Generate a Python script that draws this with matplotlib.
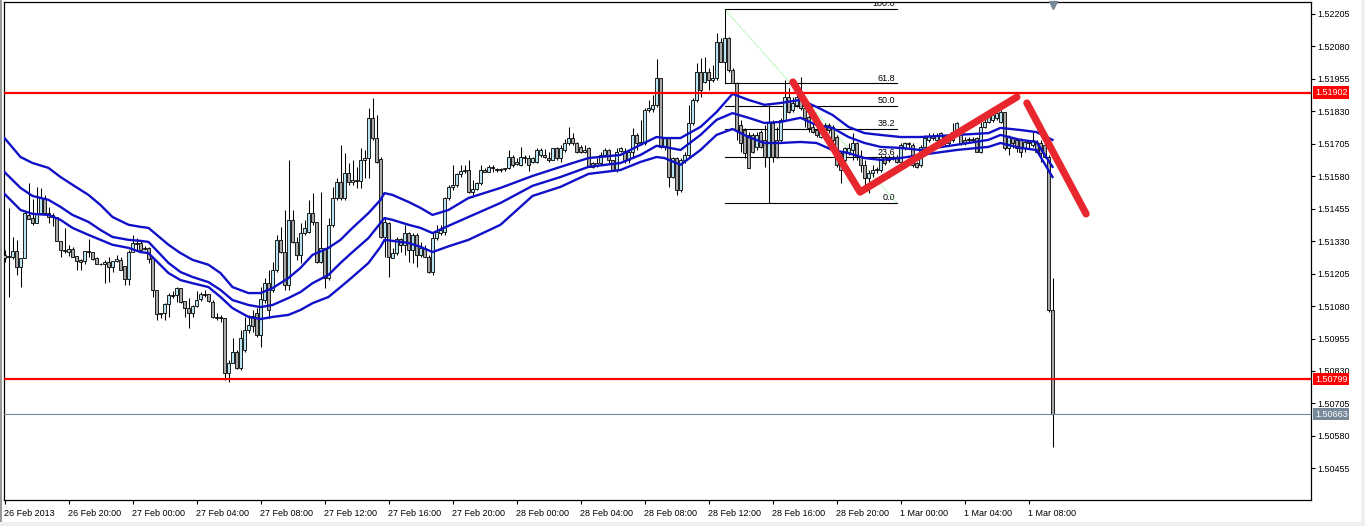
import matplotlib
matplotlib.use('Agg')
import matplotlib.pyplot as plt
import matplotlib.transforms as mtransforms
from matplotlib.patches import Rectangle
import numpy as np

plt.rcParams['font.family'] = ['Liberation Sans', 'DejaVu Sans']

# M15 bars, 26 Feb 16:00 -> 1 Mar 09:30
opens = [
    1.51277, 1.51273, 1.51269, 1.51292, 1.51231, 1.51265, 1.51431, 1.51419, 1.51400, 1.51438,
    1.51496, 1.51438, 1.51423, 1.51423, 1.51331, 1.51296, 1.51288, 1.51300, 1.51273, 1.51258,
    1.51254, 1.51292, 1.51288, 1.51265, 1.51243, 1.51243, 1.51250, 1.51231, 1.51254, 1.51258,
    1.51235, 1.51184, 1.51288, 1.51323, 1.51323, 1.51300, 1.51304, 1.51265, 1.51142, 1.51050,
    1.51053, 1.51088, 1.51123, 1.51123, 1.51149, 1.51099, 1.51072, 1.51053, 1.51080, 1.51107,
    1.51127, 1.51127, 1.51095, 1.51038, 1.51038, 1.51034, 1.50822, 1.50860, 1.50903, 1.50841,
    1.50911, 1.50988, 1.51042, 1.51053, 1.50969, 1.51103, 1.51168, 1.51142, 1.51219, 1.51335,
    1.51288, 1.51161, 1.51412, 1.51327, 1.51277, 1.51361, 1.51365, 1.51438, 1.51404, 1.51250,
    1.51304, 1.51188, 1.51393, 1.51496, 1.51558, 1.51496, 1.51592, 1.51558, 1.51566, 1.51562,
    1.51643, 1.51650, 1.51804, 1.51727, 1.51646, 1.51346, 1.51400, 1.51265, 1.51284, 1.51338,
    1.51316, 1.51361, 1.51296, 1.51354, 1.51277, 1.51304, 1.51269, 1.51211, 1.51342, 1.51361,
    1.51365, 1.51496, 1.51539, 1.51547, 1.51589, 1.51600, 1.51604, 1.51519, 1.51531, 1.51554,
    1.51604, 1.51596, 1.51616, 1.51608, 1.51604, 1.51608, 1.51612, 1.51654, 1.51628, 1.51624,
    1.51654, 1.51650, 1.51635, 1.51635, 1.51662, 1.51662, 1.51650, 1.51643, 1.51689, 1.51650,
    1.51681, 1.51708, 1.51727, 1.51708, 1.51693, 1.51673, 1.51689, 1.51631, 1.51624, 1.51631,
    1.51662, 1.51681, 1.51643, 1.51604, 1.51677, 1.51677, 1.51643, 1.51673, 1.51739, 1.51708,
    1.51708, 1.51835, 1.51839, 1.51855, 1.51958, 1.51693, 1.51727, 1.51577, 1.51650, 1.51527,
    1.51643, 1.51662, 1.51785, 1.51874, 1.51981, 1.51943, 1.51981, 1.51951, 1.51958, 1.52097,
    1.52020, 1.52113, 1.51989, 1.51939, 1.51777, 1.51758, 1.51739, 1.51739, 1.51693, 1.51750,
    1.51720, 1.51654, 1.51785, 1.51720, 1.51720, 1.51797, 1.51885, 1.51835, 1.51855, 1.51885,
    1.51843, 1.51808, 1.51770, 1.51758, 1.51731, 1.51750, 1.51777, 1.51770, 1.51731, 1.51669,
    1.51643, 1.51669, 1.51681, 1.51708, 1.51654, 1.51624, 1.51573, 1.51592, 1.51604, 1.51604,
    1.51654, 1.51643, 1.51654, 1.51654, 1.51635, 1.51689, 1.51708, 1.51701, 1.51631, 1.51624,
    1.51693, 1.51720, 1.51735, 1.51720, 1.51720, 1.51735, 1.51720, 1.51720, 1.51750, 1.51750,
    1.51720, 1.51724, 1.51720, 1.51727, 1.51673, 1.51770, 1.51789, 1.51797, 1.51805, 1.51789,
    1.51827, 1.51689, 1.51727, 1.51720, 1.51720, 1.51689, 1.51712, 1.51701, 1.51712, 1.51708,
    1.51701, 1.51654, 1.51065]

highs = [
    1.51296, 1.51458, 1.51346, 1.51335, 1.51265, 1.51438, 1.51554, 1.51492, 1.51539, 1.51535,
    1.51508, 1.51462, 1.51438, 1.51423, 1.51331, 1.51381, 1.51316, 1.51308, 1.51273, 1.51261,
    1.51292, 1.51338, 1.51288, 1.51269, 1.51246, 1.51258, 1.51269, 1.51254, 1.51277, 1.51269,
    1.51235, 1.51296, 1.51354, 1.51342, 1.51335, 1.51312, 1.51308, 1.51265, 1.51142, 1.51053,
    1.51091, 1.51130, 1.51138, 1.51153, 1.51149, 1.51099, 1.51111, 1.51084, 1.51138, 1.51134,
    1.51142, 1.51127, 1.51103, 1.51053, 1.51046, 1.51034, 1.50872, 1.50957, 1.50911, 1.50988,
    1.51038, 1.51046, 1.51065, 1.51072, 1.51153, 1.51188, 1.51219, 1.51250, 1.51354, 1.51385,
    1.51450, 1.51643, 1.51450, 1.51346, 1.51400, 1.51412, 1.51489, 1.51515, 1.51404, 1.51519,
    1.51304, 1.51419, 1.51539, 1.51573, 1.51701, 1.51669, 1.51631, 1.51643, 1.51616, 1.51689,
    1.51681, 1.51843, 1.51881, 1.51816, 1.51654, 1.51423, 1.51404, 1.51304, 1.51346, 1.51342,
    1.51393, 1.51365, 1.51361, 1.51361, 1.51327, 1.51316, 1.51277, 1.51365, 1.51393, 1.51393,
    1.51500, 1.51547, 1.51624, 1.51592, 1.51624, 1.51624, 1.51643, 1.51566, 1.51558, 1.51624,
    1.51612, 1.51624, 1.51624, 1.51612, 1.51612, 1.51612, 1.51681, 1.51662, 1.51650, 1.51693,
    1.51662, 1.51662, 1.51654, 1.51689, 1.51689, 1.51685, 1.51673, 1.51689, 1.51693, 1.51701,
    1.51724, 1.51770, 1.51746, 1.51712, 1.51701, 1.51701, 1.51693, 1.51635, 1.51650, 1.51673,
    1.51689, 1.51685, 1.51643, 1.51689, 1.51693, 1.51689, 1.51681, 1.51766, 1.51746, 1.51797,
    1.51843, 1.51874, 1.51893, 1.52032, 1.51958, 1.51731, 1.51731, 1.51654, 1.51654, 1.51650,
    1.51673, 1.51855, 1.51881, 1.52016, 1.52035, 1.52039, 1.51997, 1.52009, 1.52131, 1.52113,
    1.52224, 1.52116, 1.51997, 1.51943, 1.51797, 1.51766, 1.51750, 1.51746, 1.51750, 1.51758,
    1.51777, 1.51862, 1.51797, 1.51770, 1.51805, 1.51951, 1.51920, 1.51885, 1.51924, 1.51962,
    1.51847, 1.51816, 1.51785, 1.51766, 1.51770, 1.51785, 1.51785, 1.51777, 1.51739, 1.51673,
    1.51693, 1.51708, 1.51746, 1.51712, 1.51681, 1.51643, 1.51604, 1.51624, 1.51616, 1.51662,
    1.51662, 1.51662, 1.51662, 1.51662, 1.51708, 1.51712, 1.51712, 1.51708, 1.51635, 1.51701,
    1.51739, 1.51746, 1.51746, 1.51746, 1.51750, 1.51739, 1.51731, 1.51785, 1.51789, 1.51758,
    1.51731, 1.51731, 1.51731, 1.51731, 1.51789, 1.51805, 1.51816, 1.51823, 1.51827, 1.51835,
    1.51827, 1.51739, 1.51731, 1.51727, 1.51727, 1.51720, 1.51720, 1.51750, 1.51720, 1.51720,
    1.51708, 1.51662, 1.51188]

lows = [
    1.51250, 1.51115, 1.51261, 1.51200, 1.51153, 1.51265, 1.51415, 1.51393, 1.51400, 1.51438,
    1.51438, 1.51400, 1.51389, 1.51331, 1.51269, 1.51284, 1.51273, 1.51269, 1.51219, 1.51219,
    1.51243, 1.51269, 1.51258, 1.51243, 1.51239, 1.51168, 1.51172, 1.51211, 1.51250, 1.51219,
    1.51161, 1.51161, 1.51288, 1.51296, 1.51288, 1.51296, 1.51246, 1.51115, 1.51026, 1.51034,
    1.51026, 1.51038, 1.51111, 1.51095, 1.51091, 1.51038, 1.50995, 1.51038, 1.51076, 1.51099,
    1.51115, 1.51095, 1.51034, 1.51026, 1.51018, 1.50795, 1.50787, 1.50860, 1.50837, 1.50834,
    1.50903, 1.50976, 1.50980, 1.50961, 1.50922, 1.51091, 1.51034, 1.51134, 1.51211, 1.51284,
    1.51142, 1.51142, 1.51323, 1.51258, 1.51246, 1.51354, 1.51361, 1.51393, 1.51246, 1.51246,
    1.51149, 1.51180, 1.51385, 1.51489, 1.51489, 1.51489, 1.51547, 1.51547, 1.51535, 1.51535,
    1.51573, 1.51573, 1.51720, 1.51631, 1.51342, 1.51269, 1.51192, 1.51265, 1.51277, 1.51288,
    1.51277, 1.51250, 1.51246, 1.51231, 1.51269, 1.51269, 1.51207, 1.51200, 1.51335, 1.51354,
    1.51354, 1.51489, 1.51527, 1.51539, 1.51577, 1.51592, 1.51515, 1.51508, 1.51527, 1.51547,
    1.51596, 1.51596, 1.51596, 1.51596, 1.51596, 1.51600, 1.51608, 1.51616, 1.51624, 1.51620,
    1.51631, 1.51600, 1.51631, 1.51631, 1.51654, 1.51650, 1.51635, 1.51643, 1.51643, 1.51635,
    1.51673, 1.51701, 1.51701, 1.51669, 1.51669, 1.51669, 1.51616, 1.51612, 1.51616, 1.51624,
    1.51654, 1.51631, 1.51604, 1.51596, 1.51673, 1.51631, 1.51631, 1.51654, 1.51681, 1.51701,
    1.51701, 1.51827, 1.51827, 1.51847, 1.51689, 1.51681, 1.51539, 1.51573, 1.51508, 1.51519,
    1.51631, 1.51654, 1.51777, 1.51866, 1.51885, 1.51939, 1.51912, 1.51943, 1.51951, 1.52020,
    1.51939, 1.51981, 1.51939, 1.51720, 1.51673, 1.51650, 1.51612, 1.51669, 1.51681, 1.51689,
    1.51616, 1.51477, 1.51635, 1.51650, 1.51712, 1.51797, 1.51823, 1.51827, 1.51847, 1.51835,
    1.51770, 1.51750, 1.51746, 1.51731, 1.51727, 1.51746, 1.51746, 1.51712, 1.51616, 1.51554,
    1.51624, 1.51662, 1.51643, 1.51643, 1.51596, 1.51547, 1.51515, 1.51577, 1.51592, 1.51596,
    1.51624, 1.51635, 1.51643, 1.51631, 1.51631, 1.51681, 1.51689, 1.51616, 1.51612, 1.51616,
    1.51689, 1.51712, 1.51720, 1.51712, 1.51708, 1.51701, 1.51701, 1.51712, 1.51746, 1.51701,
    1.51701, 1.51712, 1.51712, 1.51673, 1.51669, 1.51766, 1.51785, 1.51789, 1.51797, 1.51785,
    1.51681, 1.51662, 1.51689, 1.51673, 1.51654, 1.51673, 1.51689, 1.51693, 1.51669, 1.51635,
    1.51650, 1.51057, 1.50537]

closes = [
    1.51265, 1.51269, 1.51292, 1.51231, 1.51265, 1.51438, 1.51415, 1.51400, 1.51438, 1.51496,
    1.51438, 1.51423, 1.51431, 1.51331, 1.51296, 1.51292, 1.51300, 1.51269, 1.51254, 1.51250,
    1.51292, 1.51288, 1.51261, 1.51243, 1.51243, 1.51250, 1.51231, 1.51254, 1.51261, 1.51219,
    1.51184, 1.51288, 1.51323, 1.51320, 1.51296, 1.51304, 1.51261, 1.51142, 1.51050, 1.51053,
    1.51088, 1.51123, 1.51119, 1.51149, 1.51095, 1.51072, 1.51053, 1.51080, 1.51103, 1.51127,
    1.51123, 1.51099, 1.51038, 1.51034, 1.51034, 1.50822, 1.50860, 1.50903, 1.50841, 1.50957,
    1.50988, 1.51007, 1.51003, 1.50969, 1.51107, 1.51168, 1.51065, 1.51219, 1.51335, 1.51288,
    1.51161, 1.51412, 1.51327, 1.51277, 1.51361, 1.51381, 1.51438, 1.51404, 1.51250, 1.51304,
    1.51188, 1.51393, 1.51496, 1.51558, 1.51496, 1.51592, 1.51558, 1.51566, 1.51562, 1.51643,
    1.51650, 1.51804, 1.51727, 1.51635, 1.51346, 1.51404, 1.51269, 1.51284, 1.51338, 1.51316,
    1.51361, 1.51296, 1.51354, 1.51277, 1.51304, 1.51269, 1.51211, 1.51342, 1.51365, 1.51373,
    1.51496, 1.51539, 1.51547, 1.51589, 1.51600, 1.51604, 1.51519, 1.51531, 1.51554, 1.51604,
    1.51596, 1.51616, 1.51612, 1.51604, 1.51608, 1.51612, 1.51654, 1.51624, 1.51635, 1.51654,
    1.51650, 1.51624, 1.51650, 1.51681, 1.51681, 1.51654, 1.51643, 1.51689, 1.51650, 1.51689,
    1.51708, 1.51727, 1.51708, 1.51673, 1.51673, 1.51681, 1.51616, 1.51616, 1.51631, 1.51662,
    1.51681, 1.51643, 1.51604, 1.51673, 1.51689, 1.51643, 1.51673, 1.51739, 1.51708, 1.51712,
    1.51835, 1.51843, 1.51855, 1.51958, 1.51693, 1.51727, 1.51577, 1.51650, 1.51527, 1.51643,
    1.51662, 1.51785, 1.51874, 1.51981, 1.51912, 1.51981, 1.51951, 1.51958, 1.52097, 1.52020,
    1.52113, 1.51989, 1.51939, 1.51758, 1.51708, 1.51669, 1.51612, 1.51673, 1.51739, 1.51693,
    1.51654, 1.51789, 1.51654, 1.51654, 1.51797, 1.51885, 1.51827, 1.51862, 1.51885, 1.51843,
    1.51805, 1.51766, 1.51750, 1.51739, 1.51758, 1.51777, 1.51758, 1.51720, 1.51624, 1.51604,
    1.51689, 1.51689, 1.51708, 1.51654, 1.51624, 1.51573, 1.51592, 1.51604, 1.51608, 1.51654,
    1.51631, 1.51654, 1.51650, 1.51635, 1.51701, 1.51708, 1.51704, 1.51624, 1.51616, 1.51693,
    1.51727, 1.51735, 1.51727, 1.51739, 1.51746, 1.51708, 1.51708, 1.51750, 1.51785, 1.51708,
    1.51708, 1.51720, 1.51724, 1.51673, 1.51770, 1.51789, 1.51808, 1.51816, 1.51823, 1.51827,
    1.51689, 1.51731, 1.51708, 1.51689, 1.51673, 1.51712, 1.51708, 1.51720, 1.51673, 1.51669,
    1.51654, 1.51065, 1.50663]

# three moving-average channel lines, sampled at bar indexes
ma_bar = [0, 4, 7, 11, 14, 17, 21, 24, 27, 31, 34, 36, 41, 44, 47, 51, 54, 57, 61, 64,
          67, 71, 74, 77, 81, 84, 87, 91, 94, 95, 97, 101, 104, 107, 111, 116, 124, 132, 139, 146,
          154, 159, 163, 165, 169, 174, 178, 182, 186, 190, 194, 199, 203, 207, 211, 215, 219, 224, 229, 238,
          246, 249, 254, 258, 262]
ma_upper = [1.51727, 1.51654, 1.51631, 1.51612, 1.51577, 1.51547, 1.51508, 1.51469, 1.51423, 1.51393,
            1.51385, 1.51381, 1.51316, 1.51284, 1.51258, 1.51239, 1.51207, 1.51153, 1.51130, 1.51130,
            1.51149, 1.51188, 1.51227, 1.51277, 1.51304, 1.51335, 1.51381, 1.51438, 1.51489, 1.51515,
            1.51508, 1.51481, 1.51458, 1.51431, 1.51450, 1.51496, 1.51535, 1.51581, 1.51616, 1.51650,
            1.51662, 1.51701, 1.51731, 1.51727, 1.51727, 1.51770, 1.51827, 1.51897, 1.51874, 1.51855,
            1.51862, 1.51874, 1.51847, 1.51816, 1.51770, 1.51746, 1.51739, 1.51731, 1.51731, 1.51739,
            1.51746, 1.51766, 1.51758, 1.51750, 1.51720]
ma_mid = [1.51596, 1.51535, 1.51504, 1.51489, 1.51462, 1.51431, 1.51404, 1.51373, 1.51346, 1.51335,
          1.51331, 1.51327, 1.51246, 1.51211, 1.51192, 1.51172, 1.51142, 1.51103, 1.51084, 1.51076,
          1.51084, 1.51111, 1.51134, 1.51168, 1.51200, 1.51246, 1.51288, 1.51342, 1.51400, 1.51419,
          1.51412, 1.51393, 1.51381, 1.51361, 1.51389, 1.51423, 1.51477, 1.51543, 1.51577, 1.51616,
          1.51631, 1.51662, 1.51697, 1.51693, 1.51681, 1.51739, 1.51797, 1.51823, 1.51805, 1.51785,
          1.51789, 1.51805, 1.51777, 1.51766, 1.51731, 1.51708, 1.51693, 1.51689, 1.51681, 1.51701,
          1.51720, 1.51739, 1.51720, 1.51712, 1.51616]
ma_lower = [1.51512, 1.51450, 1.51435, 1.51431, 1.51412, 1.51381, 1.51354, 1.51335, 1.51316, 1.51304,
            1.51288, 1.51284, 1.51207, 1.51180, 1.51168, 1.51153, 1.51115, 1.51072, 1.51038, 1.51030,
            1.51038, 1.51046, 1.51065, 1.51091, 1.51115, 1.51153, 1.51192, 1.51246, 1.51308, 1.51335,
            1.51331, 1.51323, 1.51308, 1.51288, 1.51310, 1.51335, 1.51393, 1.51504, 1.51539, 1.51589,
            1.51604, 1.51635, 1.51654, 1.51650, 1.51624, 1.51681, 1.51739, 1.51762, 1.51731, 1.51708,
            1.51708, 1.51712, 1.51708, 1.51681, 1.51669, 1.51650, 1.51643, 1.51650, 1.51662, 1.51681,
            1.51693, 1.51708, 1.51689, 1.51681, 1.51577]

# horizontal levels and price tags
resistance = 1.51902
support = 1.50799
last_price = 1.50663

# fibonacci retracement anchors (bar index, price)
fib_start, fib_end = 180, 223.1
fib_high, fib_low = 1.52224, 1.51477
fib_levels = [0.0, 23.6, 38.2, 50.0, 61.8, 100.0]

# hand-drawn red zigzag (bar index, price)
zig1_x = [197.1, 213.9, 253.1]
zig1_y = [1.51943, 1.51519, 1.51885]
zig2_x = [255.6, 270.4]
zig2_y = [1.51862, 1.51435]

time_ticks = list(range(0, 257, 16))
time_labels = ['26 Feb 2013', '26 Feb 20:00', '27 Feb 00:00', '27 Feb 04:00', '27 Feb 08:00',
               '27 Feb 12:00', '27 Feb 16:00', '27 Feb 20:00', '28 Feb 00:00', '28 Feb 04:00',
               '28 Feb 08:00', '28 Feb 12:00', '28 Feb 16:00', '28 Feb 20:00', '1 Mar 00:00',
               '1 Mar 04:00', '1 Mar 08:00']
price_ticks = [1.50455 + 0.00125 * k for k in range(15)]

W, H = 1365, 526
fig = plt.figure(figsize=(W / 100, H / 100), dpi=100, facecolor='white')
ax = fig.add_axes([4 / W, 1 - 500 / H, 1307 / W, 498 / H])
ax.set_facecolor('white')

o = np.array(opens)
hi = np.array(highs)
lo = np.array(lows)
c = np.array(closes)
x = np.arange(len(o))
up = c >= o

# fibonacci lines (behind candles)
rng = fib_high - fib_low
for lev in fib_levels:
    p = fib_low + rng * lev / 100.0
    ax.plot([fib_start, fib_end], [p, p], color='black', lw=0.8, zorder=1)
    ax.text(fib_end - 0.4, p + 0.00002, '%.1f' % lev, ha='right', va='bottom',
            fontsize=6.5, color='black', zorder=1, clip_on=True)
ax.plot([fib_start, fib_end], [fib_high, fib_low], color='#90EE90', lw=0.8,
        ls=(0, (1, 1)), zorder=1)

# candles
ax.vlines(x, lo, hi, color='black', lw=0.75, zorder=2)
body_lo = np.minimum(o, c)
body_h = np.maximum(np.abs(c - o), 0.000008)
ax.bar(x[up], body_h[up], bottom=body_lo[up], width=0.62, color='#B9E3EE',
       edgecolor='black', linewidth=0.6, zorder=3)
ax.bar(x[~up], body_h[~up], bottom=body_lo[~up], width=0.62, color='#A8A8A8',
       edgecolor='black', linewidth=0.6, zorder=3)

# MA channel
for line in (ma_upper, ma_mid, ma_lower):
    ax.plot(ma_bar, line, color='#1010C8', lw=1.7, zorder=4, solid_joinstyle='round')

# horizontal levels
ax.axhline(resistance, color='#FF0000', lw=1.6, zorder=5)
ax.axhline(support, color='#FF0000', lw=1.6, zorder=5)
ax.axhline(last_price, color='#778899', lw=0.8, zorder=5)

# zigzag
ax.plot(zig1_x, zig1_y, color='#E8262E', lw=5.2, solid_capstyle='round',
        solid_joinstyle='round', zorder=6)
ax.plot(zig2_x, zig2_y, color='#E8262E', lw=5.2, solid_capstyle='round', zorder=6)

# current bar marker at the top
ax.plot([len(o) - 1], [1.52241], marker='v', ms=5.5, color='#778899', zorder=7, clip_on=False)

ax.set_xlim(-0.125, -0.125 + 1307 / 4)
ax.set_ylim(1.50333, 1.52251)

ax.set_xticks(time_ticks)
ax.set_xticklabels(time_labels, fontsize=6.5)
for lab in ax.get_xticklabels():
    lab.set_horizontalalignment('left')
ax.yaxis.tick_right()
ax.set_yticks(price_ticks)
ax.set_yticklabels(['%.5f' % p for p in price_ticks], fontsize=6.5)
ax.tick_params(axis='both', direction='out', length=3, width=0.8, color='black')
ax.tick_params(axis='x', pad=3.5)
ax.tick_params(axis='y', pad=1.5)
for sp in ax.spines.values():
    sp.set_linewidth(0.9)
    sp.set_color('black')

# price tags on the right scale
trans = mtransforms.blended_transform_factory(ax.transAxes, ax.transData)
for val, col in ((resistance, '#FF0000'), (support, '#FF0000'), (last_price, '#778899')):
    ax.text(1.0 + 4 / 1307, val, '%.5f' % val, transform=trans, ha='left', va='center',
            fontsize=6.5, color='white', zorder=10, clip_on=False,
            bbox=dict(boxstyle='square,pad=0.18', fc=col, ec='none'))

# window frame
fig.patches.append(Rectangle((0, 0), 2 / W, 1, transform=fig.transFigure, fc='#9A9A9A', ec='none'))
fig.patches.append(Rectangle((1 - 4 / W, 0), 4 / W, 1, transform=fig.transFigure, fc='#EFEFEF', ec='none'))
fig.patches.append(Rectangle((0, 0), 1, 4 / H, transform=fig.transFigure, fc='#EFEFEF', ec='none'))

fig.savefig('out.png', dpi=100, facecolor='white')
